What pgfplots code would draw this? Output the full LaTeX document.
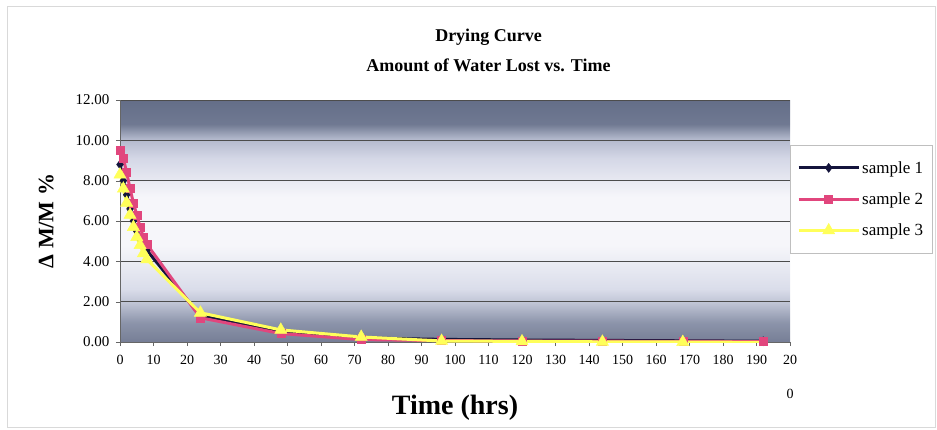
\documentclass[border=0pt]{standalone}
\usepackage{pgfplots}
\pgfplotsset{compat=1.18}
\usepackage{fontspec}
\setmainfont{Liberation Serif}
\definecolor{bgA}{RGB}{118,126,150}
\definecolor{bgB}{RGB}{140,148,170}
\definecolor{bgC}{RGB}{190,195,212}
\definecolor{bgD}{RGB}{218,221,234}
\definecolor{bgE}{RGB}{246,246,250}
\definecolor{bgF}{RGB}{212,215,230}
\definecolor{bgG}{RGB}{178,184,204}
\definecolor{bgH}{RGB}{112,121,146}
\definecolor{bgI}{RGB}{100,110,136}
\pgfdeclareverticalshading{chartbg}{100bp}{%
 color(0bp)=(bgA); color(25bp)=(bgA); color(29bp)=(bgB); color(33bp)=(bgC);
 color(36bp)=(bgD); color(45bp)=(bgE); color(55bp)=(bgE); color(63bp)=(bgF);
 color(67bp)=(bgG); color(70bp)=(bgH); color(75bp)=(bgI); color(100bp)=(bgI)}
\definecolor{sOne}{RGB}{20,20,60}
\definecolor{sTwo}{RGB}{225,70,125}
\definecolor{sThree}{RGB}{255,255,90}
\begin{document}
\begin{tikzpicture}
\useasboundingbox (0,0) rectangle (937pt,429pt);
\draw[black!15, line width=1pt] (7pt,2pt) rectangle (935pt,422pt);
\begin{axis}[
  at={(120pt,87pt)}, anchor=south west,
  scale only axis, width=670pt, height=242pt,
  xmin=0, xmax=200, ymin=0, ymax=12,
  axis background/.style={shading=chartbg},
  axis x line*=bottom, axis y line*=left,
  axis line style={black!60},
  xtick={0,10,...,200},
  xticklabels={0,10,20,30,40,50,60,70,80,90,100,110,120,130,140,150,160,170,180,190,{20\\[18pt]0}},
  xticklabel style={align=center, font=\fontsize{14}{16}\selectfont, yshift=-6pt},
  ytick={0,2,...,12},
  yticklabel style={/pgf/number format/fixed, /pgf/number format/fixed zerofill, /pgf/number format/precision=2, font=\fontsize{15}{17}\selectfont, xshift=-3pt},
  /pgf/number format/assume math mode=true,
  tick align=outside, major tick length=4pt, tick style={black!60},
  ymajorgrids, major grid style={black!70, line width=0.6pt},
  title={Drying Curve\\Amount of Water Lost vs. Time},
  title style={align=center, font=\bfseries\fontsize{18}{30}\selectfont, at={(axis description cs:0.55,1.18)}, anchor=center},
  xlabel={Time (hrs)},
  xlabel style={font=\bfseries\fontsize{28}{32}\selectfont, at={(axis description cs:0.5,-0.27)}, anchor=center},
  ylabel={Δ M/M \%},
  ylabel style={font=\bfseries\fontsize{22}{26}\selectfont, at={(axis description cs:-0.11,0.5)}, anchor=center},
  legend style={at={(1,0.814)}, anchor=north west, draw=black!25, fill=white,
     font=\fontsize{17}{19}\selectfont, row sep=14pt, inner ysep=14pt, inner xsep=7pt},
  legend cell align=left,
  legend image code/.code={\draw[mark repeat=2,mark phase=2] plot coordinates {(0pt,0pt) (30pt,0pt) (60pt,0pt)};},
]
\addplot[color=sOne, line width=3pt, mark=diamond*, mark size=4.5pt, mark options={fill=sOne, line width=0.5pt}] coordinates {
 (0,8.8) (1,8.0) (2,7.3) (3,6.6) (4,6.0) (5,5.5) (6,5.1) (7,4.8) (8,4.55)
 (24,1.3) (48,0.5) (72,0.2) (96,0.13) (120,0.1) (144,0.08) (168,0.06) (192,0.04)};
\addlegendentry{sample 1}
\addplot[color=sTwo, line width=3pt, mark=square*, mark size=4pt, mark options={fill=sTwo, line width=0.5pt}] coordinates {
 (0,9.5) (1,9.1) (2,8.4) (3,7.6) (4,6.9) (5,6.3) (6,5.7) (7,5.2) (8,4.85)
 (24,1.2) (48,0.42) (72,0.12) (96,0.07) (120,0.05) (144,0.04) (168,0.03) (192,0.02)};
\addlegendentry{sample 2}
\addplot[color=sThree, line width=3pt, mark=triangle*, mark size=7pt, mark options={fill=sThree, line width=0.5pt}] coordinates {
 (0,8.3) (1,7.6) (2,6.9) (3,6.3) (4,5.7) (5,5.2) (6,4.8) (7,4.4) (8,4.1)
 (24,1.45) (48,0.6) (72,0.25) (96,0.05) (120,0.03) (144,0.01) (168,0.0) (192,-0.02)};
\addlegendentry{sample 3}
\end{axis}
\end{tikzpicture}
\end{document}
